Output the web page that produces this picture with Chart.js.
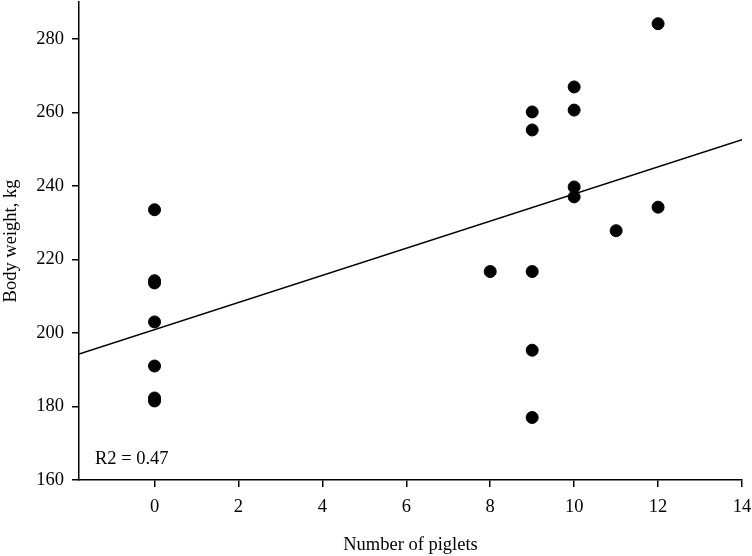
<!DOCTYPE html>
<html>
<head>
<meta charset="utf-8">
<script src="https://cdn.jsdelivr.net/npm/chart.js@4/dist/chart.umd.min.js"></script>
<style>
  html, body { margin: 0; padding: 0; background: #fff; }
  #wrap { width: 752px; height: 556px; }
</style>
</head>
<body>
<div id="wrap"><canvas id="grafico" width="752" height="556"></canvas></div>
<script>
// Dados (número de leitões x peso corporal)
const leitoes = [0, 0, 0, 0, 0, 0, 0, 8, 9, 9, 9, 9, 9, 10, 10, 10, 10, 11, 12, 12];
const pesos = [233.5, 214.2, 213.6, 203, 191, 182.3, 181.5, 216.7, 260.1, 255.2, 216.7, 195.3, 177,
    266.9, 260.6, 239.7, 237, 227.8, 284.1, 234.2];

// Reta de regressão
const intercepto = 200.9;
const inclinacao = 3.69;
const textoR2 = "R2 = 0.47";

const xTicks = [0, 2, 4, 6, 8, 10, 12, 14];
const yTicks = [160, 180, 200, 220, 240, 260, 280];
const xMin = -1.8, xMax = 14;
const yMin = 160, yMax = 290;

const fonte = { family: "'Liberation Serif', 'Times New Roman', serif", size: 18.5 };

const pontos = leitoes.map((x, i) => ({ x: x, y: pesos[i] }));
const reta = [xMin, xMax].map(x => ({ x: x, y: intercepto + inclinacao * x }));

// sem padding automático das escalas
function semPadding(s) {
    s.paddingTop = 0;
    s.paddingBottom = 0;
    s.paddingLeft = 0;
    s.paddingRight = 0;
}

// Texto do R2 dentro do gráfico
const pluginR2 = {
    id: "textoR2",
    afterDatasetsDraw(chart) {
        const ctx = chart.ctx;
        const sx = chart.scales.x, sy = chart.scales.y;
        ctx.save();
        ctx.font = fonte.size + "px " + fonte.family;
        ctx.fillStyle = "#000";
        ctx.textBaseline = "middle";
        ctx.fillText(textoR2, sx.getPixelForValue(-1.42), sy.getPixelForValue(165.6));
        ctx.restore();
    }
};

const ctx = document.getElementById("grafico").getContext("2d");
new Chart(ctx, {
    type: "scatter",
    data: {
        datasets: [
            {
                data: reta,
                type: "line",
                borderColor: "#000",
                borderWidth: 1.5,
                pointRadius: 0,
                fill: false,
                order: 2
            },
            {
                data: pontos,
                backgroundColor: "#000",
                borderColor: "#000",
                pointRadius: 6,
                pointHoverRadius: 6,
                order: 1
            }
        ]
    },
    options: {
        responsive: false,
        animation: false,
        layout: { autoPadding: false, padding: { top: 2, right: 10, left: 0, bottom: 0 } },
        plugins: { legend: { display: false }, tooltip: { enabled: false } },
        scales: {
            x: {
                type: "linear",
                min: xMin,
                max: xMax,
                afterBuildTicks: s => { s.ticks = xTicks.map(v => ({ value: v })); },
                afterFit: s => { s.height = 76; semPadding(s); },
                grid: { display: true, drawOnChartArea: false, drawTicks: true, tickLength: 7, color: "#000", lineWidth: 1.5 },
                border: { display: true, color: "#000", width: 1.5 },
                ticks: { color: "#000", font: fonte, padding: 9, maxRotation: 0 },
                title: { display: true, text: "Number of piglets", color: "#000", font: fonte, padding: 0 }
            },
            y: {
                type: "linear",
                min: yMin,
                max: yMax,
                afterBuildTicks: s => { s.ticks = yTicks.map(v => ({ value: v })); },
                afterFit: s => { s.width = 79; semPadding(s); },
                grid: { display: true, drawOnChartArea: false, drawTicks: true, tickLength: 7, color: "#000", lineWidth: 1.5 },
                border: { display: true, color: "#000", width: 1.5 },
                ticks: { color: "#000", font: fonte, padding: 8 },
                title: { display: true, text: "Body weight, kg", color: "#000", font: fonte, padding: 0 }
            }
        }
    },
    plugins: [pluginR2]
});
</script>
</body>
</html>
